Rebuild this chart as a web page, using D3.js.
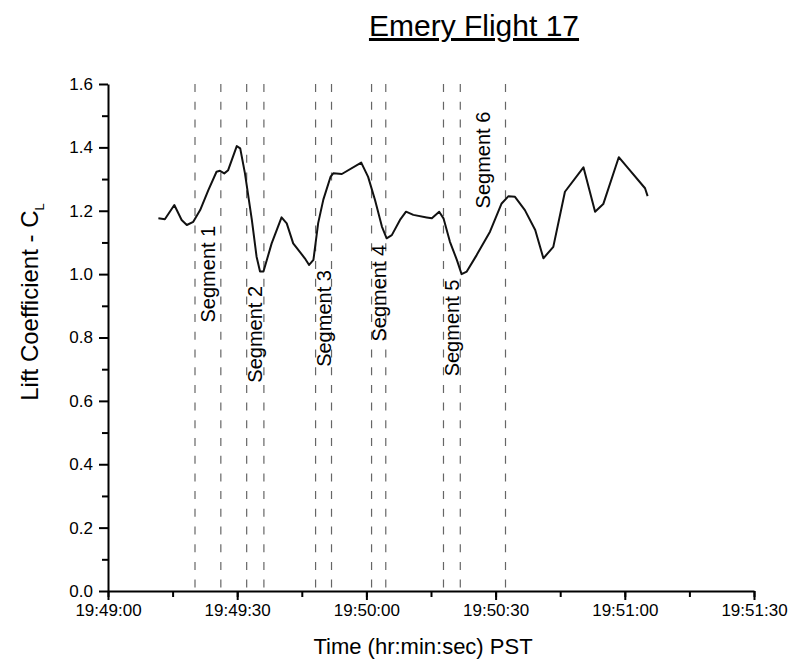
<!DOCTYPE html>
<html>
<head>
<meta charset="utf-8">
<script src="https://cdn.jsdelivr.net/npm/d3@7"></script>
<style>
  body { margin: 0; background: #fff; }
  text { font-family: "Liberation Sans", Arial, sans-serif; fill: #000; }
</style>
</head>
<body>
<div id="chart"></div>
<script>
  // Seconds after 19:49:00 and lift coefficient
  const timeSec = [11.7, 13.2, 15.4, 17.1, 18.3, 19.8, 21.4, 23.3, 25.2, 26.0, 27.0, 27.9, 29.9, 30.7,
    31.8, 33.4, 34.5, 35.3, 36.1, 38.0, 40.3, 41.5, 43.0, 45.7, 46.7, 47.7, 48.8, 50.0, 51.7, 52.3,
    54.3, 58.8, 60.4, 62.0, 63.6, 64.7, 65.9, 67.8, 69.2, 70.9, 74.0, 75.2, 76.9, 77.9, 79.4, 81.0,
    82.1, 83.3, 85.6, 88.7, 91.4, 93.0, 94.5, 96.8, 99.2, 101.1, 103.4, 106.1, 110.4, 113.1, 115.0,
    118.6, 120.8, 124.7, 125.3];
  const liftCoef = [1.176, 1.173, 1.218, 1.171, 1.155, 1.165, 1.202, 1.265, 1.323, 1.326, 1.318, 1.328, 1.404, 1.397,
    1.318, 1.171, 1.055, 1.008, 1.008, 1.097, 1.179, 1.160, 1.097, 1.050, 1.029, 1.045, 1.161, 1.235, 1.308, 1.318,
    1.316, 1.352, 1.307, 1.234, 1.150, 1.113, 1.123, 1.171, 1.197, 1.187, 1.179, 1.176, 1.197, 1.176, 1.102, 1.045,
    1.000, 1.008, 1.060, 1.134, 1.223, 1.246, 1.244, 1.202, 1.139, 1.050, 1.086, 1.260, 1.337, 1.197, 1.221,
    1.369, 1.334, 1.271, 1.246];

  // Segment boundaries (seconds after 19:49:00)
  const boundarySec = [20.2, 26.2, 32.2, 36.2, 48.2, 51.9, 61.2, 64.5, 77.9, 81.8, 92.3];
  const segmentNames = ["Segment 1", "Segment 2", "Segment 3", "Segment 4", "Segment 5", "Segment 6"];
  const segmentStart = [20.2, 32.2, 48.2, 61.2, 77.9, 81.8];
  const segmentEnd = [26.2, 36.2, 51.9, 64.5, 81.8, 92.3];

  const yTicks = [0, 0.2, 0.4, 0.6, 0.8, 1.0, 1.2, 1.4, 1.6];

  const base = new Date(2000, 0, 1, 19, 49, 0);
  const toDate = s => new Date(base.getTime() + s * 1000);
  const data = timeSec.map((t, i) => ({ t: toDate(t), v: liftCoef[i] }));

  const width = 793, height = 661;
  const plotLeft = 108, plotRight = 754, plotTop = 84, plotBottom = 591;

  const svg = d3.select('#chart')
    .append('svg')
      .attr('width', width)
      .attr('height', height);

  const x = d3.scaleTime()
    .domain([base, toDate(150)])
    .range([plotLeft, plotRight]);
  const y = d3.scaleLinear()
    .domain([0, 1.6])
    .range([plotBottom, plotTop]);

  // Title
  svg.append('text')
    .attr('x', 474)
    .attr('y', 36)
    .attr('text-anchor', 'middle')
    .attr('font-size', 30)
    .style('text-decoration', 'underline')
    .text('Emery Flight 17');

  // Dashed segment boundaries
  svg.selectAll('.boundary')
    .data(boundarySec)
    .join('line')
      .attr('class', 'boundary')
      .attr('x1', d => x(toDate(d)))
      .attr('x2', d => x(toDate(d)))
      .attr('y1', y(1.6))
      .attr('y2', y(0))
      .attr('stroke', '#666')
      .attr('stroke-width', 1.2)
      .attr('stroke-dasharray', '8,9.7');

  // Minor ticks first so the major axis draws on top
  svg.append('g')
    .attr('transform', `translate(0,${plotBottom})`)
    .call(d3.axisBottom(x).ticks(d3.timeSecond.every(15)).tickSize(6).tickFormat(''))
    .call(g => g.select('.domain').remove())
    .call(g => g.selectAll('line').attr('stroke-width', 2));
  svg.append('g')
    .attr('transform', `translate(${plotLeft},0)`)
    .call(d3.axisLeft(y).tickValues(d3.range(0.1, 1.6, 0.2)).tickSize(6).tickFormat(''))
    .call(g => g.select('.domain').remove())
    .call(g => g.selectAll('line').attr('stroke-width', 2));

  // X axis
  svg.append('g')
    .attr('transform', `translate(0,${plotBottom})`)
    .call(d3.axisBottom(x).ticks(d3.timeSecond.every(30)).tickSize(9).tickSizeOuter(0)
      .tickFormat(d3.timeFormat('%H:%M:%S')).tickPadding(4))
    .call(g => g.select('.domain').attr('stroke-width', 2))
    .call(g => g.selectAll('line').attr('stroke-width', 2))
    .call(g => g.selectAll('text').attr('font-size', 17).attr('font-family', '"Liberation Sans", Arial, sans-serif'));

  // Y axis
  svg.append('g')
    .attr('transform', `translate(${plotLeft},0)`)
    .call(d3.axisLeft(y).tickValues(yTicks).tickSize(9).tickSizeOuter(0)
      .tickFormat(d3.format('.1f')).tickPadding(6))
    .call(g => g.select('.domain').attr('stroke-width', 2))
    .call(g => g.selectAll('line').attr('stroke-width', 2))
    .call(g => g.selectAll('text').attr('font-size', 17).attr('font-family', '"Liberation Sans", Arial, sans-serif'));

  // Axis titles
  svg.append('text')
    .attr('x', 423)
    .attr('y', 654)
    .attr('text-anchor', 'middle')
    .attr('font-size', 22)
    .text('Time (hr:min:sec) PST');

  const yTitle = svg.append('text')
    .attr('transform', 'translate(38,302) rotate(-90)')
    .attr('text-anchor', 'middle')
    .attr('font-size', 24);
  yTitle.append('tspan').text('Lift Coefficient - C');
  yTitle.append('tspan')
    .attr('font-size', 13)
    .attr('dy', 6)
    .text('L');

  // The lift curve
  const line = d3.line()
    .x(d => x(d.t))
    .y(d => y(d.v));
  svg.append('path')
    .datum(data)
    .attr('d', line)
    .attr('fill', 'none')
    .attr('stroke', '#111')
    .attr('stroke-width', 2)
    .attr('stroke-linejoin', 'round');

  // Segment labels, centred between their boundaries
  const labelCL = [1.0, 0.81, 0.86, 0.94, 0.83, 1.36];
  svg.selectAll('.seg-label')
    .data(segmentNames)
    .join('text')
      .attr('class', 'seg-label')
      .attr('transform', (d, i) => {
        const cx = (x(toDate(segmentStart[i])) + x(toDate(segmentEnd[i]))) / 2;
        return `translate(${cx},${y(labelCL[i])}) rotate(-90)`;
      })
      .attr('text-anchor', 'middle')
      .attr('dy', '0.35em')
      .attr('font-size', 20)
      .text(d => d);
</script>
</body>
</html>
